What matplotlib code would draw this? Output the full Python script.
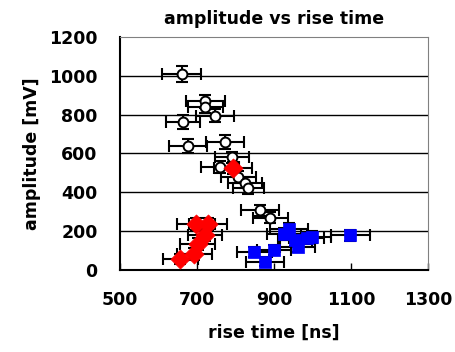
import matplotlib as mpl
mpl.use('Agg')
import matplotlib.pyplot as plt
import numpy as np

# open circles
circ_x = [660, 722, 722, 747, 664, 677, 773, 791, 760, 807, 825, 833, 863, 890]
circ_y = [1010, 868, 840, 795, 762, 640, 658, 580, 530, 480, 450, 420, 307, 270]
circ_xerr = [50, 50, 45, 50, 45, 50, 50, 45, 50, 45, 45, 40, 50, 45]
circ_yerr = [40, 35, 30, 35, 35, 35, 35, 30, 30, 30, 30, 30, 30, 30]

# red diamonds
red_x = [793, 697, 729, 721, 702, 693, 657]
red_y = [524, 237, 237, 180, 134, 82, 57]
red_xerr = [50, 50, 50, 45, 45, 45, 45]
red_yerr = [30, 30, 30, 30, 30, 30, 25]

# blue squares
blue_x = [849, 877, 900, 926, 939, 954, 961, 985, 998, 1098]
blue_y = [94, 43, 103, 185, 211, 155, 118, 163, 169, 178]
blue_xerr = [45, 50, 45, 45, 50, 45, 45, 45, 50, 50]
blue_yerr = [25, 25, 25, 30, 30, 30, 25, 30, 30, 30]

plt.rcParams['font.family'] = ['DejaVu Sans']
plt.rcParams['font.weight'] = 'bold'

fig = plt.figure(figsize=(4.56, 3.52), dpi=100)
ax = fig.add_axes([0.263, 0.233, 0.676, 0.662])

eb = dict(fmt='none', ecolor='black', elinewidth=1.5, capsize=4.5, capthick=1.5)
ax.errorbar(circ_x, circ_y, xerr=circ_xerr, yerr=circ_yerr, zorder=3, **eb)
ax.errorbar(red_x, red_y, xerr=red_xerr, yerr=red_yerr, zorder=3, **eb)
ax.errorbar(blue_x, blue_y, xerr=blue_xerr, yerr=blue_yerr, zorder=3, **eb)

ax.scatter(circ_x, circ_y, s=50, marker='o', facecolor='white', edgecolor='black', linewidth=1.4, zorder=4)
ax.scatter(red_x, red_y, s=95, marker='D', facecolor='red', edgecolor='red', linewidth=0.5, zorder=5)
ax.scatter(blue_x, blue_y, s=65, marker='s', facecolor='blue', edgecolor='blue', linewidth=0.5, zorder=5)

ax.set_xlim(500, 1300)
ax.set_ylim(0, 1200)
ax.set_xticks(np.arange(500, 1301, 200))
ax.set_yticks(np.arange(0, 1201, 200))
ax.tick_params(direction='in', length=5, width=1, labelsize=12.5)
ax.tick_params(axis='x', pad=15)
ax.tick_params(axis='y', length=0, pad=16)

for y in range(200, 1200, 200):
    ax.axhline(y, color='black', linewidth=1, zorder=1)

for s in ['top', 'right']:
    ax.spines[s].set_color('gray')
for s in ['left', 'bottom']:
    ax.spines[s].set_linewidth(1.5)

ax.set_xlabel('rise time [ns]', fontsize=12.5, fontweight='bold', labelpad=11)
ax.set_ylabel('amplitude [mV]', fontsize=12.5, fontweight='bold', labelpad=6)
ax.set_title('amplitude vs rise time', fontsize=12.5, fontweight='bold', pad=9)

plt.savefig('out.png', dpi=100)
